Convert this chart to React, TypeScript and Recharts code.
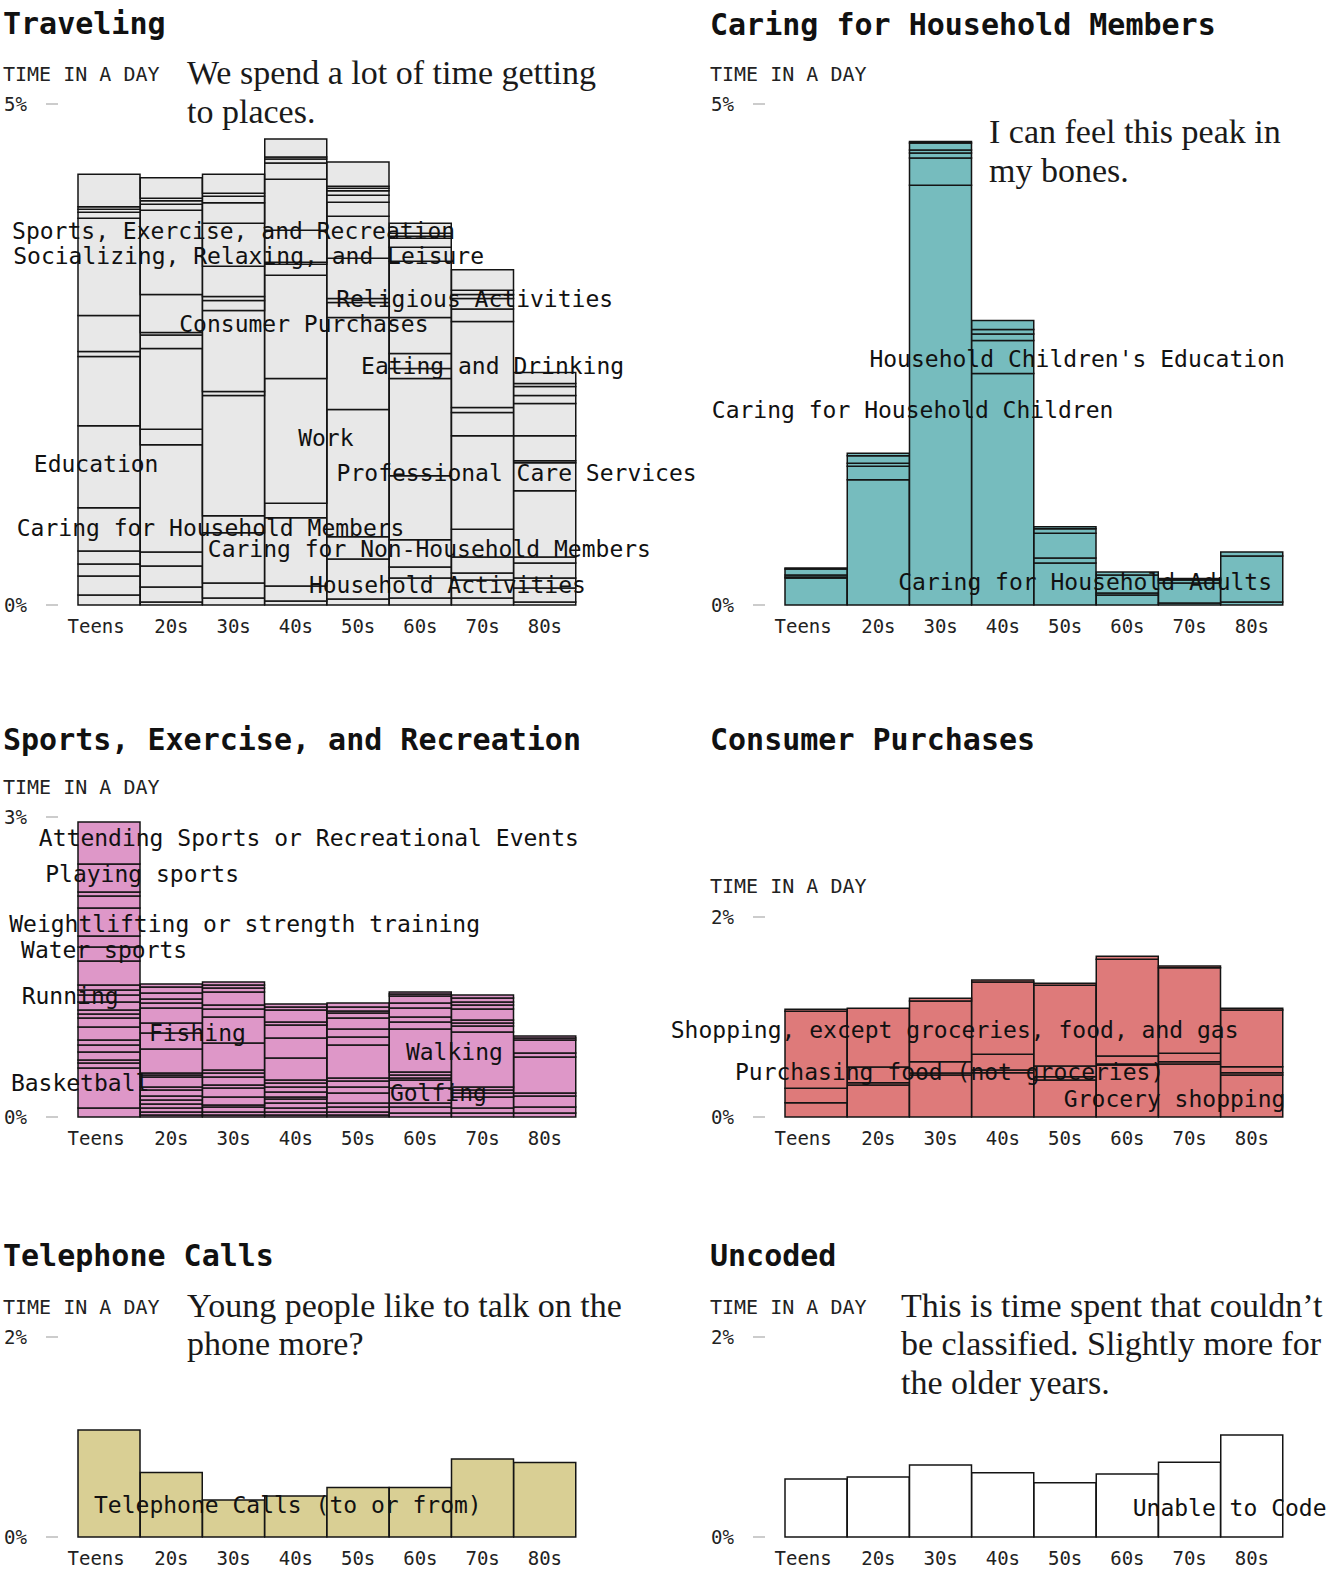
import React from 'react';
import { BarChart, Bar, XAxis, YAxis, ReferenceDot } from 'recharts';

const ages = ['Teens', '20s', '30s', '40s', '50s', '60s', '70s', '80s'];

// stacked segment heights (% of the day), bottom to top, one list per age group
const travelSegments = [
  [0.10, 0.19, 0.12, 0.13, 0.43, 0.82, 0.69, 0.05, 0, 0.36, 0.97, 0.06, 0.03, 0.025, 0.325],
  [0.03, 0.15, 0.21, 0.14, 1.07, 0.155, 0.805, 0.135, 0.025, 0.38, 0.84, 0.06, 0.035, 0.025, 0.205],
  [0.07, 0.15, 0.50, 0.17, 1.20, 0.04, 0.81, 0.10, 0.04, 0.30, 0.43, 0.205, 0.065, 0.03, 0.19],
  [0.04, 0.15, 0.68, 0.145, 1.245, 0, 1.03, 0.11, 0.02, 0.32, 0.51, 0.16, 0.04, 0.02, 0.18],
  [0.06, 0.40, 0.22, 1.27, 0.92, 0.15, 0.04, 0.40, 0.42, 0.14, 0.07, 0.045, 0.025, 0.02, 0.24],
  [0.07, 0.20, 0.11, 0.27, 0.64, 0.97, 0.10, 0.15, 0.36, 0.56, 0.14, 0.09, 0.02, 0.03, 0.10],
  [0.07, 0.18, 0.07, 0.16, 0.275, 0.935, 0.23, 0.05, 0.86, 0.125, 0.105, 0.04, 0.04, 0, 0.205],
  [0.03, 0.14, 0.10, 0.15, 0.06, 0.66, 0.28, 0.02, 0.25, 0.32, 0.08, 0.09, 0.03, 0, 0.11],
];

const caringSegments = [
  [0.27, 0.01, 0.02, 0.06, 0.01],
  [1.25, 0.135, 0.03, 0.075, 0.025],
  [4.19, 0.27, 0.05, 0.03, 0.07, 0.015],
  [2.31, 0.33, 0.065, 0.045, 0.09],
  [0.42, 0.05, 0.245, 0.045, 0.02],
  [0.10, 0.02, 0.18, 0.03],
  [0.02, 0.20, 0.03, 0.015],
  [0.03, 0.46, 0.04],
];

const sportsSegments = [
  [0.09, 0.40, 0.05, 0.03, 0.08, 0.07, 0.05, 0.13, 0.09, 0.04, 0.04, 0.08, 0.07, 0.05, 0.05, 0.24, 0.14, 0.11, 0.28, 0.12, 0.04, 0.28, 0.42],
  [0.02, 0.03, 0.04, 0.04, 0.04, 0.04, 0.06, 0.03, 0.10, 0.02, 0.02, 0.24, 0.16, 0.10, 0.15, 0.05, 0.04, 0.06, 0.06, 0.03],
  [0.02, 0.03, 0.05, 0.02, 0.08, 0.09, 0.03, 0.08, 0.04, 0.03, 0.27, 0.26, 0.08, 0.04, 0.13, 0.04, 0.03, 0.03],
  [0.02, 0.03, 0.04, 0.05, 0.04, 0.02, 0.05, 0.05, 0.04, 0.03, 0.22, 0.20, 0.13, 0.03, 0.12, 0.03, 0.03],
  [0.02, 0.03, 0.05, 0.04, 0.10, 0.06, 0.06, 0.03, 0.33, 0.08, 0.08, 0.11, 0.05, 0.02, 0.04, 0.04],
  [0.04, 0.06, 0.04, 0.15, 0.08, 0.02, 0.03, 0.03, 0.43, 0.07, 0.05, 0.09, 0.05, 0.07, 0.02, 0.02],
  [0.04, 0.05, 0.11, 0.04, 0.03, 0.03, 0.55, 0.06, 0.03, 0.03, 0.11, 0.04, 0.03, 0.04, 0.03],
  [0.04, 0.06, 0.11, 0.03, 0.36, 0.04, 0.13, 0.02, 0.02],
];

// grocery, gas, food (not groceries), other shopping, other
const consumerSegments = [
  [0.143, 0, 0.144, 0.77, 0.02],
  [0.32, 0.023, 0.157, 0.587, 0],
  [0.42, 0.02, 0.113, 0.607, 0.027],
  [0.443, 0.027, 0.157, 0.723, 0.02],
  [0.37, 0.033, 0.107, 0.807, 0.02],
  [0.52, 0.01, 0.08, 0.967, 0.03],
  [0.53, 0.023, 0.084, 0.856, 0.017],
  [0.42, 0.023, 0.06, 0.567, 0.017],
];

const phoneValues = [1.07, 0.645, 0.37, 0.41, 0.495, 0.495, 0.78, 0.745];
const uncodedValues = [0.58, 0.60, 0.72, 0.643, 0.543, 0.63, 0.747, 1.02];

type Tag = { text: string; age: string; value: number; dx: number };

const travelLabels: Tag[] = [
  { text: 'Sports, Exercise, and Recreation', age: '30s', value: 3.73, dx: 0 },
  { text: 'Socializing, Relaxing, and Leisure', age: '30s', value: 3.48, dx: 15 },
  { text: 'Religious Activities', age: '70s', value: 3.05, dx: -8 },
  { text: 'Consumer Purchases', age: '40s', value: 2.8, dx: 8 },
  { text: 'Eating and Drinking', age: '70s', value: 2.385, dx: 10 },
  { text: 'Work', age: '40s', value: 1.667, dx: 30 },
  { text: 'Education', age: 'Teens', value: 1.41, dx: -13 },
  { text: 'Professional Care Services', age: '70s', value: 1.32, dx: 34 },
  { text: 'Caring for Household Members', age: '30s', value: 0.77, dx: -23 },
  { text: 'Caring for Non-Household Members', age: '60s', value: 0.56, dx: 9 },
  { text: 'Household Activities', age: '60s', value: 0.2, dx: 27 },
];

const caringLabels: Tag[] = [
  { text: "Household Children's Education", age: '50s', value: 2.453, dx: 12 },
  { text: 'Caring for Household Children', age: '30s', value: 1.946, dx: -28 },
  { text: 'Caring for Household Adults', age: '50s', value: 0.234, dx: 20 },
];

const sportsLabels: Tag[] = [
  { text: 'Attending Sports or Recreational Events', age: '40s', value: 2.787, dx: 13 },
  { text: 'Playing sports', age: 'Teens', value: 2.43, dx: 33 },
  { text: 'Weightlifting or strength training', age: '30s', value: 1.93, dx: 11 },
  { text: 'Water sports', age: 'Teens', value: 1.67, dx: -5 },
  { text: 'Running', age: 'Teens', value: 1.21, dx: -39 },
  { text: 'Fishing', age: '20s', value: 0.843, dx: 26 },
  { text: 'Walking', age: '60s', value: 0.653, dx: 34 },
  { text: 'Basketball', age: 'Teens', value: 0.337, dx: -29 },
  { text: 'Golfing', age: '60s', value: 0.243, dx: 18 },
];

const consumerLabels: Tag[] = [
  { text: 'Shopping, except groceries, food, and gas', age: '30s', value: 0.87, dx: 14 },
  { text: 'Purchasing food (not groceries)', age: '30s', value: 0.453, dx: 9 },
  { text: 'Grocery shopping', age: '70s', value: 0.18, dx: -15 },
];

const phoneLabels: Tag[] = [{ text: 'Telephone Calls (to or from)', age: '40s', value: 0.32, dx: -8 }];
const uncodedLabels: Tag[] = [{ text: 'Unable to Code', age: '70s', value: 0.287, dx: 40 }];

const MONO = '"DejaVu Sans Mono", "Liberation Mono", monospace';
const SERIF = '"Liberation Serif", "DejaVu Serif", serif';
const PLOT_LEFT = 78;
const PLOT_WIDTH = 498;

const AgeTick = (t: any) => (
  <text
    x={t.x + (t.payload.value === 'Teens' ? -13 : 0)}
    y={t.y + 21}
    textAnchor="middle"
    dominantBaseline="central"
    fontFamily={MONO}
    fontSize={19}
    fill="#222"
  >
    {t.payload.value}
  </text>
);

const PctTick = (t: any) => (
  <g>
    <text x={4} y={t.y} dominantBaseline="central" fontFamily={MONO} fontSize={19} fill="#222">
      {`${t.payload.value}%`}
    </text>
    <line x1={46} x2={58} y1={t.y} y2={t.y} stroke="#bbb" strokeWidth={1.5} />
  </g>
);

interface PanelProps {
  title: string;
  left: number;
  width: number;
  titleTop: number;
  axisTop: number;
  plotTop: number;
  plotBottom: number;
  max: number;
  fill: string;
  segments: number[][];
  labels: Tag[];
  note?: string[];
  noteLeft?: number;
  noteTop?: number;
}

const Panel = (p: PanelProps) => {
  const rows = ages.map((age, i) => {
    const row: Record<string, string | number> = { age };
    p.segments[i].forEach((v, k) => {
      row[`s${k}`] = v;
    });
    return row;
  });
  const layers = Math.max(...p.segments.map((s) => s.length));
  const height = p.plotBottom - p.plotTop + 60;

  return (
    <>
      <div style={{ position: 'absolute', left: p.left + 3, top: p.titleTop, font: `bold 30px/30px ${MONO}`, color: '#111', whiteSpace: 'nowrap' }}>
        {p.title}
      </div>
      <div style={{ position: 'absolute', left: p.left + 3, top: p.axisTop, font: `20px/20px ${MONO}`, color: '#222', whiteSpace: 'nowrap' }}>
        TIME IN A DAY
      </div>
      {p.note && (
        <div style={{ position: 'absolute', left: p.noteLeft, top: p.noteTop, font: `34px/38.5px ${SERIF}`, color: '#1a1a1a', whiteSpace: 'nowrap', zIndex: 2 }}>
          {p.note.map((line) => (
            <div key={line}>{line}</div>
          ))}
        </div>
      )}
      <div style={{ position: 'absolute', left: p.left, top: p.plotTop - 20 }}>
        <BarChart
          width={p.width}
          height={height}
          data={rows}
          margin={{ top: 20, right: p.width - PLOT_LEFT - PLOT_WIDTH, left: 0, bottom: 0 }}
          barCategoryGap={0}
          barGap={0}
        >
          <XAxis dataKey="age" axisLine={false} tickLine={false} tickSize={0} tickMargin={0} height={40} interval={0} tick={AgeTick} />
          <YAxis
            type="number"
            domain={[0, p.max]}
            ticks={[0, p.max]}
            width={PLOT_LEFT}
            axisLine={false}
            tickLine={false}
            tickSize={0}
            tickMargin={0}
            interval={0}
            tick={PctTick}
          />
          {Array.from({ length: layers }, (_, k) => (
            <Bar key={k} dataKey={`s${k}`} stackId="t" fill={p.fill} stroke="#141414" strokeWidth={1.5} isAnimationActive={false} />
          ))}
          {p.labels.map((l) => (
            <ReferenceDot
              key={l.text}
              x={l.age}
              y={l.value}
              r={1}
              ifOverflow="visible"
              shape={(d: any) => (
                <text
                  x={d.cx + l.dx}
                  y={d.cy}
                  textAnchor="middle"
                  dominantBaseline="central"
                  fontFamily={MONO}
                  fontSize={23}
                  fill="#111"
                >
                  {l.text}
                </text>
              )}
            />
          ))}
        </BarChart>
      </div>
    </>
  );
};

export default function App() {
  return (
    <div style={{ position: 'absolute', left: 0, top: 0, width: 1340, height: 1585, background: '#fff' }}>
      <style>{`.recharts-surface, .recharts-wrapper { overflow: visible !important; }`}</style>
      <Panel
        title="Traveling"
        left={0}
        width={700}
        titleTop={9}
        axisTop={63.5}
        plotTop={104}
        plotBottom={605}
        max={5}
        fill="#e8e8e8"
        segments={travelSegments}
        labels={travelLabels}
        note={['We spend a lot of time getting', 'to places.']}
        noteLeft={187}
        noteTop={54}
      />
      <Panel
        title="Caring for Household Members"
        left={707}
        width={633}
        titleTop={10}
        axisTop={63.5}
        plotTop={104}
        plotBottom={605}
        max={5}
        fill="#76bcbe"
        segments={caringSegments}
        labels={caringLabels}
        note={['I can feel this peak in', 'my bones.']}
        noteLeft={989}
        noteTop={113}
      />
      <Panel
        title="Sports, Exercise, and Recreation"
        left={0}
        width={700}
        titleTop={724.6}
        axisTop={777.4}
        plotTop={817}
        plotBottom={1117}
        max={3}
        fill="#de97c8"
        segments={sportsSegments}
        labels={sportsLabels}
      />
      <Panel
        title="Consumer Purchases"
        left={707}
        width={633}
        titleTop={724.6}
        axisTop={875.8}
        plotTop={917}
        plotBottom={1117}
        max={2}
        fill="#de7a7a"
        segments={consumerSegments}
        labels={consumerLabels}
      />
      <Panel
        title="Telephone Calls"
        left={0}
        width={700}
        titleTop={1240.6}
        axisTop={1297.4}
        plotTop={1337}
        plotBottom={1537}
        max={2}
        fill="#d9cf94"
        segments={phoneValues.map((v) => [v])}
        labels={phoneLabels}
        note={['Young people like to talk on the', 'phone more?']}
        noteLeft={187}
        noteTop={1286.6}
      />
      <Panel
        title="Uncoded"
        left={707}
        width={633}
        titleTop={1240.6}
        axisTop={1297.4}
        plotTop={1337}
        plotBottom={1537}
        max={2}
        fill="#ffffff"
        segments={uncodedValues.map((v) => [v])}
        labels={uncodedLabels}
        note={['This is time spent that couldn\u2019t', 'be classified. Slightly more for', 'the older years.']}
        noteLeft={901}
        noteTop={1286.6}
      />
    </div>
  );
}
